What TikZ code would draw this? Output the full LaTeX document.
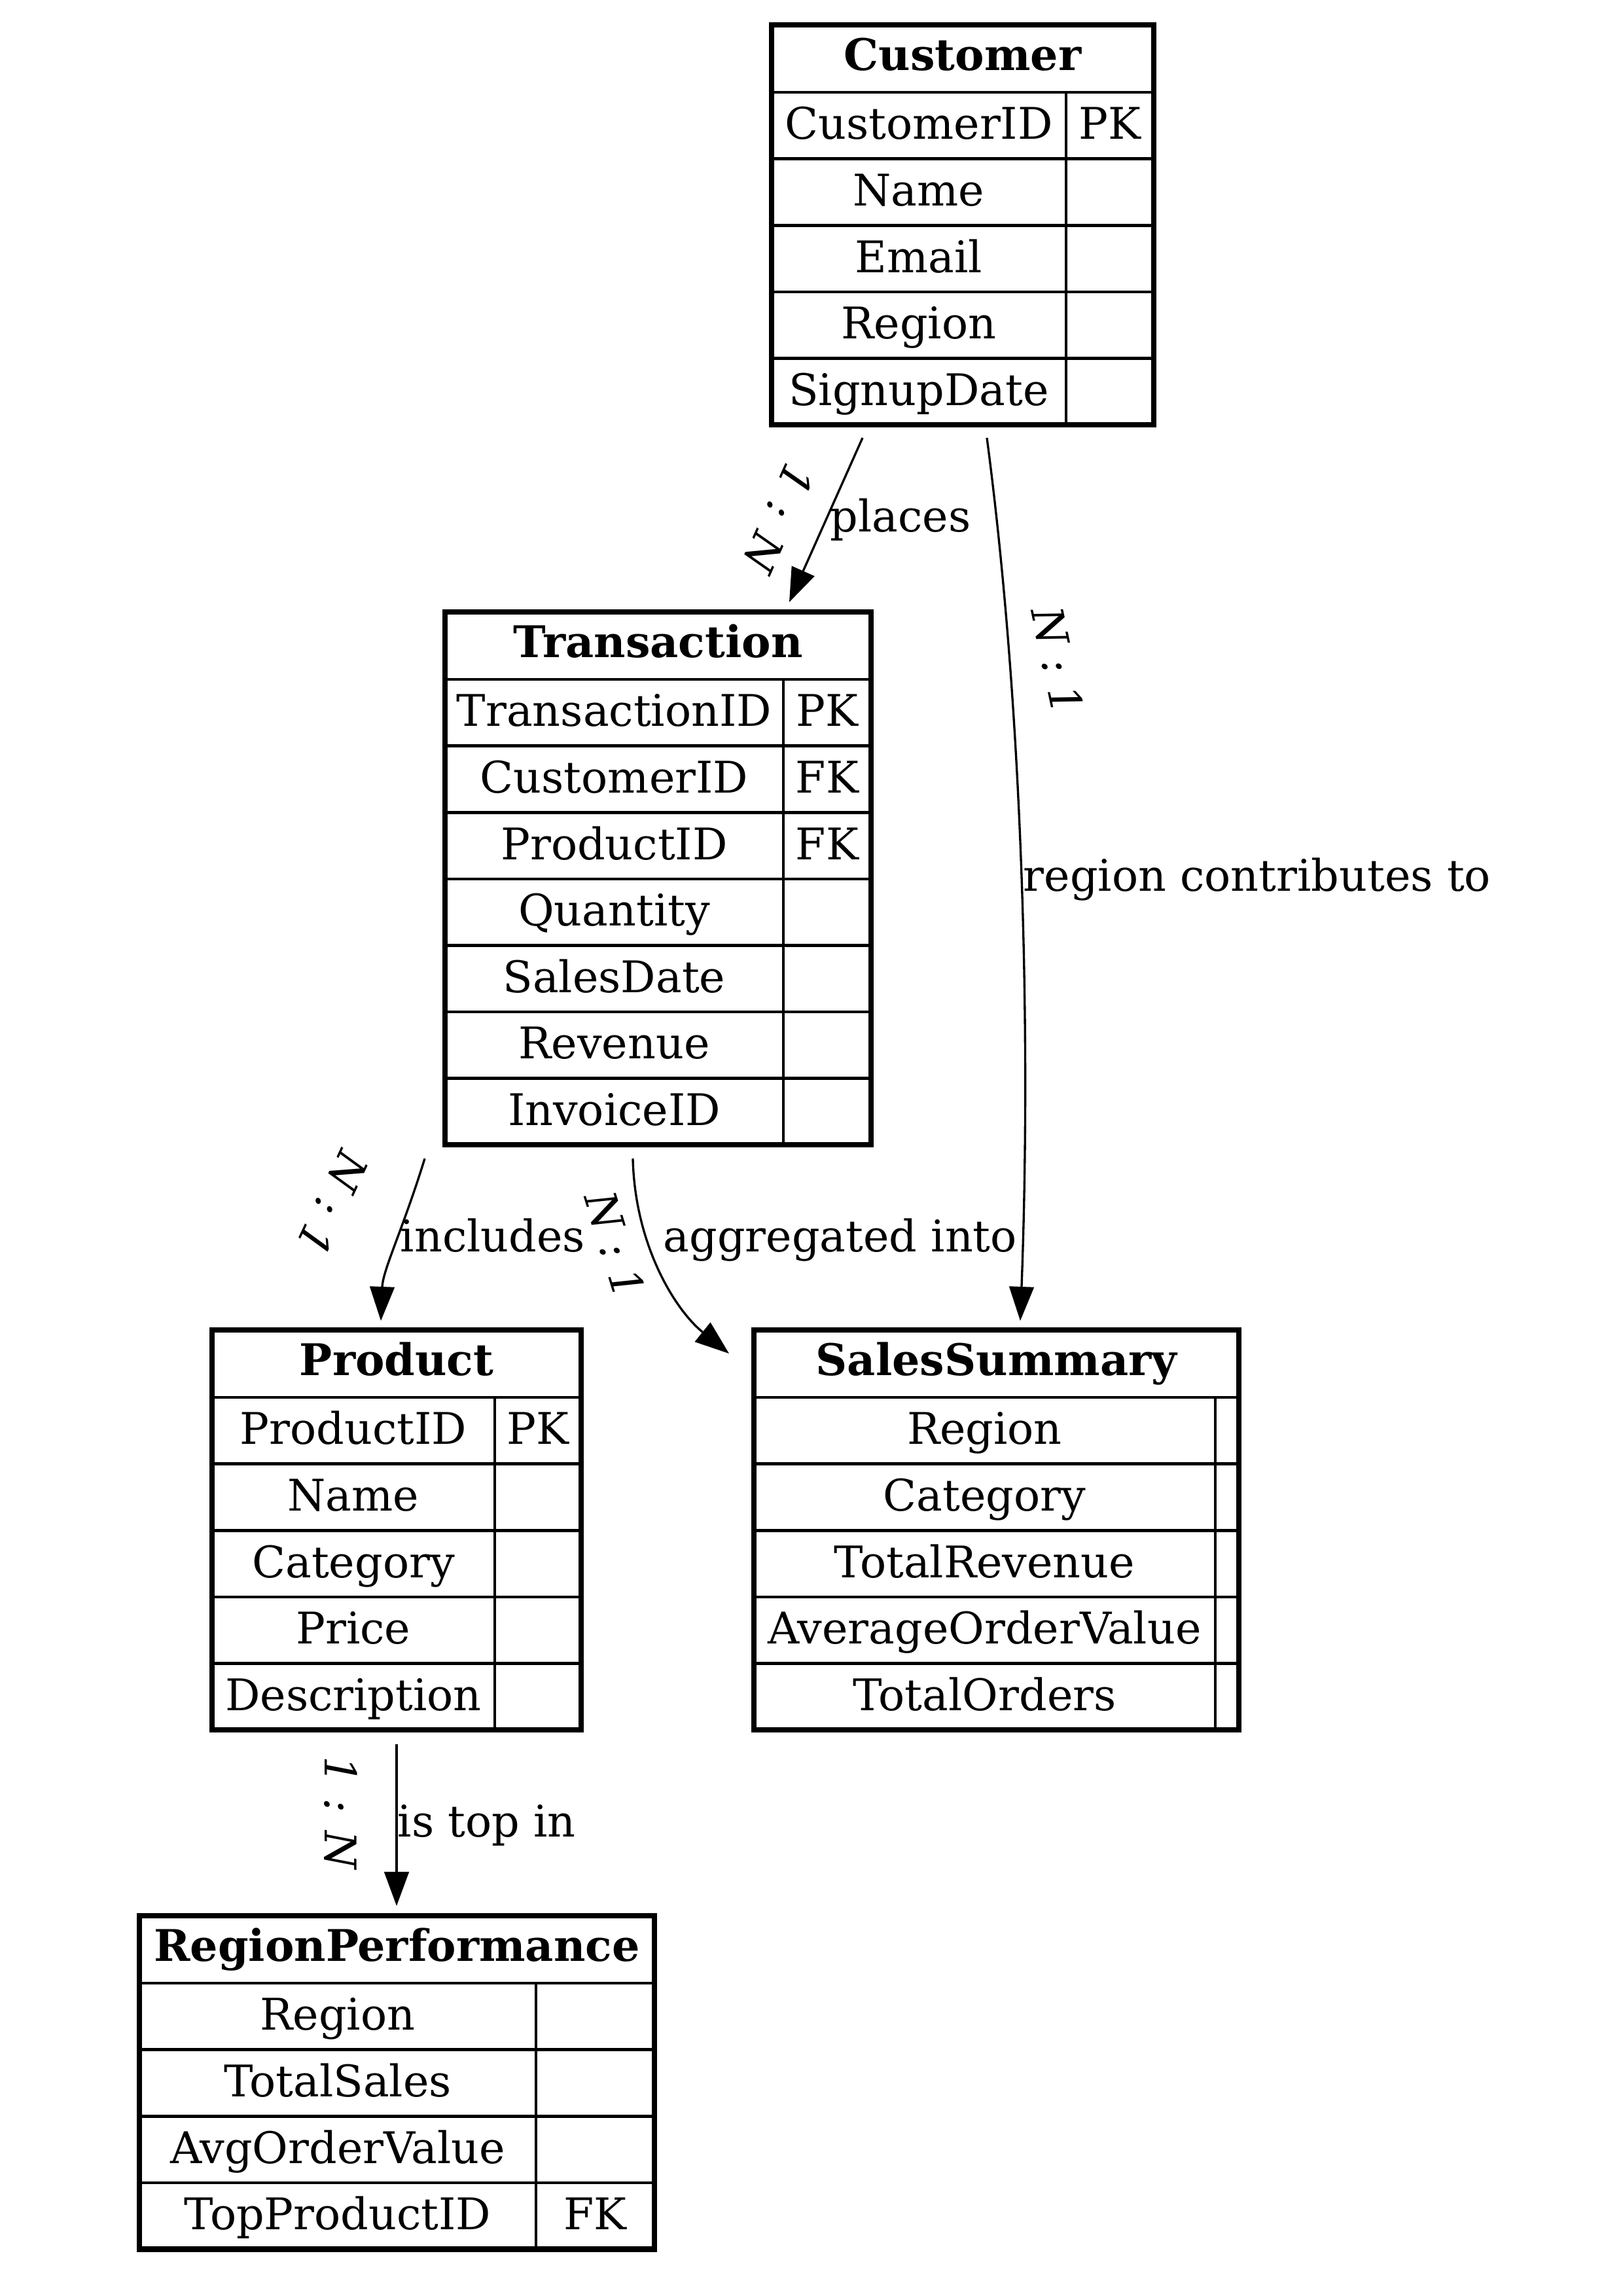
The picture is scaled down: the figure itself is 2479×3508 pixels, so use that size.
\documentclass[tikz,border=0pt]{standalone}
\usepackage{fontspec}
\setmainfont{DejaVu Serif}
\usetikzlibrary{arrows.meta,calc,fit}

\newcommand{\ertable}[7]{%
  \pgfmathsetmacro{\tL}{#2}%
  \pgfmathsetmacro{\tD}{#3}%
  \pgfmathsetmacro{\tR}{#4}%
  \pgfmathsetmacro{\tT}{#5}%
  \pgfmathsetmacro{\tM}{(\tL+\tD)/2}%
  \pgfmathsetmacro{\tK}{(\tD+\tR)/2}%
  \pgfmathsetmacro{\tC}{(\tL+\tR)/2}%
  \pgfmathsetmacro{\tH}{\tT+103}%
  \pgfmathsetmacro{\tY}{\tT+51.5+18}%
  \gdef\tN{0}%
  \foreach \f/\k [count=\i] in {#7} {\xdef\tN{\i}}%
  \pgfmathsetmacro{\tB}{\tH+\tN*101.6}%
  \node[tframe, fit={(\tL,\tT)(\tR,\tB)}] (#1) {};
  \node[titletext] (#1-title) at (\tC,\tY) {#6};
  \draw[cellline] (\tL,\tH) -- (\tR,\tH);
  \draw[cellline] (\tD,\tH) -- (\tD,\tB);
  \foreach \f/\k [count=\i] in {#7} {%
    \pgfmathsetmacro{\ty}{\tH+(\i-0.5)*101.6+21}%
    \pgfmathsetmacro{\tl}{\tH+\i*101.6}%
    \node[celltext] (#1-\i) at (\tM,\ty) {\f};
    \node[celltext] (#1-k\i) at (\tK,\ty) {\k};
    \ifnum\i<\tN \draw[cellline] (\tL,\tl) -- (\tR,\tl);\fi
  }%
}

\begin{document}
\begin{tikzpicture}[x=0.24bp,y=-0.24bp,
  font=\fontsize{16bp}{19bp}\selectfont,
  tframe/.style={draw=black, line width=2bp, inner sep=0pt, outer sep=0pt},
  cellline/.style={draw=black, line width=1.1bp},
  celltext/.style={anchor=base, inner sep=0pt},
  titletext/.style={anchor=base, inner sep=0pt, font=\fontsize{16bp}{19bp}\selectfont\bfseries},
  rel/.style={draw=black, line width=0.8bp, -{Triangle[length=12.5bp,width=9bp]}},
  card/.style={inner sep=0pt, font=\fontsize{16bp}{19bp}\selectfont\itshape},
  elabel/.style={anchor=west, inner sep=0pt, text height=0.72em, text depth=0.22em},
]
\useasboundingbox (0,0) rectangle (2479,3508);

\ertable{customer}{1179}{1629}{1763}{38}{Customer}{CustomerID/PK, Name/{}, Email/{}, Region/{}, SignupDate/{}}
\ertable{transaction}{680}{1197}{1331}{935}{Transaction}{TransactionID/PK, CustomerID/FK, ProductID/FK, Quantity/{}, SalesDate/{}, Revenue/{}, InvoiceID/{}}
\ertable{product}{324}{756}{888}{2032}{Product}{ProductID/PK, Name/{}, Category/{}, Price/{}, Description/{}}
\ertable{salessummary}{1152}{1857}{1893}{2032}{SalesSummary}{Region/{}, Category/{}, TotalRevenue/{}, AverageOrderValue/{}, TotalOrders/{}}
\ertable{regionperf}{213}{819}{1000}{2927}{RegionPerformance}{Region/{}, TotalSales/{}, AvgOrderValue/{}, TopProductID/FK}

% connectors
\draw[rel] ($(customer.south west)+(139,20)$) -- ($(transaction.north west)+(526,-15)$);
\draw[rel] ($(customer.south west)+(329,20)$) .. controls (1565,1100) and (1575,1600) .. ($(salessummary.north west)+(407,-14)$);
\draw[rel] ($(transaction.south west)+(-31,21)$) .. controls (615,1880) and (585,1940) .. ($(product.north west)+(258,-14)$);
\draw[rel] ($(transaction.south west)+(287,21)$) .. controls (970,1900) and (1030,2000) .. ($(salessummary.north west)+(-38,36)$);
\draw[rel] ($(product.south west)+(282,22)$) -- ($(regionperf.north west)+(393,-15)$);

% edge labels
\node[elabel] (l-places) at (1268,802) {places};
\node[elabel] (l-region) at (1563,1351) {region contributes to};
\node[elabel] (l-includes) at (611,1902) {includes};
\node[elabel] (l-aggr) at (1013,1902) {aggregated into};
\node[elabel] (l-istop) at (607,2796) {is top in};

% cardinalities
\node[card, rotate=-114] (c-places) at (1190,792) {1 : N};
\node[card, rotate=-78] (c-region) at (1616,1009) {N : 1};
\node[card, rotate=-115] (c-includes) at (508,1839) {N : 1};
\node[card, rotate=-73] (c-aggr) at (940,1902) {N : 1};
\node[card, rotate=-90] (c-istop) at (521,2770) {1 : N};
\end{tikzpicture}
\end{document}
